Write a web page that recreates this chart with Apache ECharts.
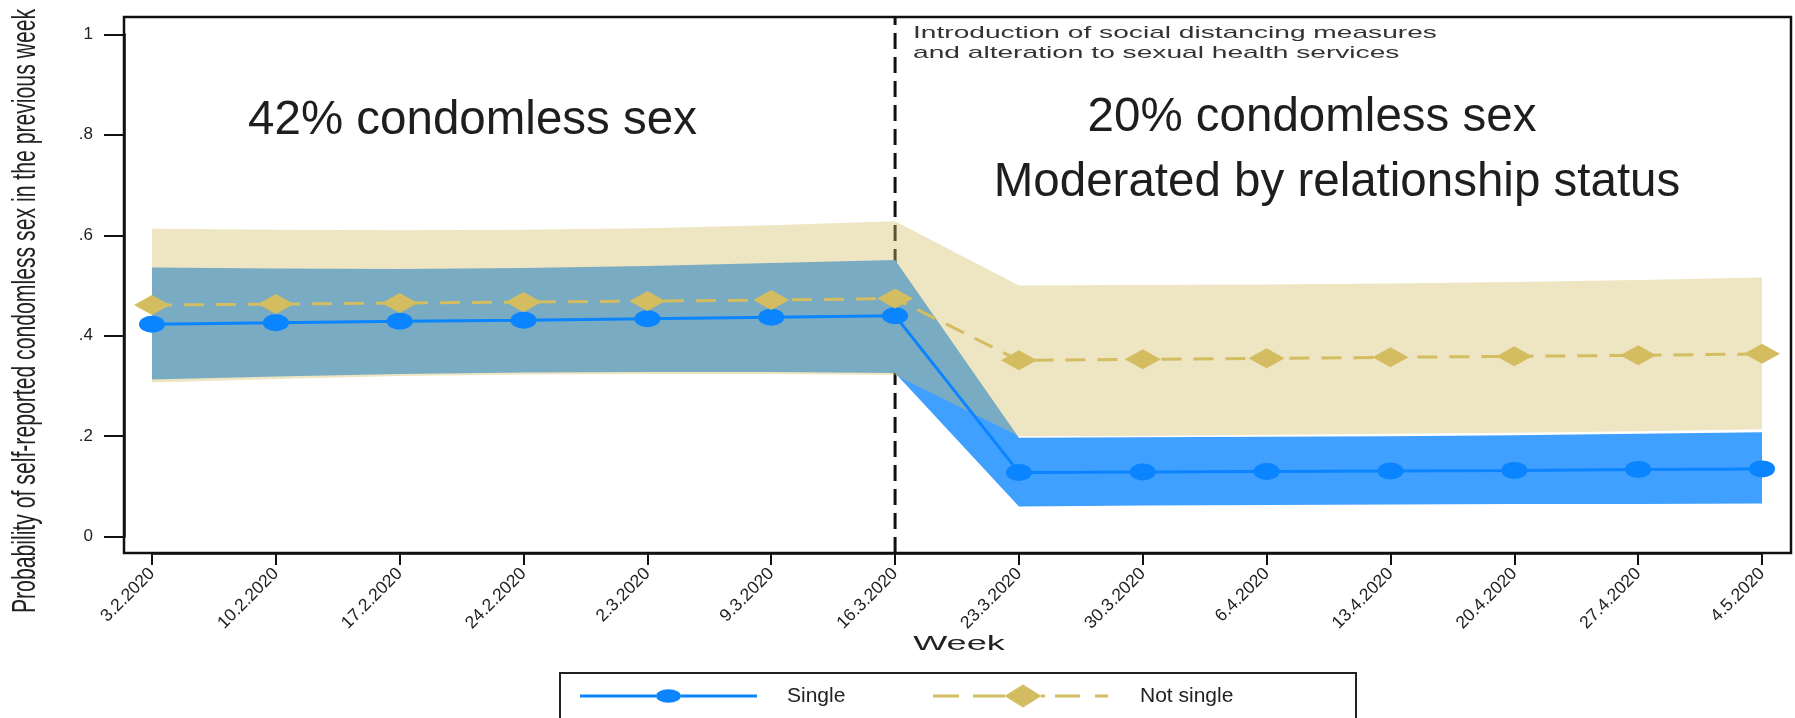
<!DOCTYPE html>
<html><head><meta charset="utf-8">
<script src="https://cdn.jsdelivr.net/npm/echarts@6/dist/echarts.min.js"></script>
<style>html,body{margin:0;padding:0;background:#fff}#c{width:1795px;height:718px}</style>
</head><body><div id="c"></div>
<script>
// ---------------- data ----------------
const weeks = ['3.2.2020','10.2.2020','17.2.2020','24.2.2020','2.3.2020','9.3.2020','16.3.2020',
               '23.3.2020','30.3.2020','6.4.2020','13.4.2020','20.4.2020','27.4.2020','4.5.2020'];
const yTickLabels = ['0', '.2', '.4', '.6', '.8', '1'];

const singleMean = [0.423, 0.426, 0.429, 0.431, 0.434, 0.437, 0.440, 0.128, 0.129, 0.130, 0.131, 0.132, 0.134, 0.135];
const singleLow  = [0.313, 0.319, 0.324, 0.327, 0.328, 0.328, 0.326, 0.060, 0.062, 0.063, 0.064, 0.065, 0.065, 0.066];
const singleHigh = [0.536, 0.534, 0.533, 0.535, 0.539, 0.545, 0.551, 0.197, 0.198, 0.199, 0.200, 0.202, 0.205, 0.208];

const notSingleMean = [0.461, 0.463, 0.465, 0.467, 0.469, 0.471, 0.474, 0.351, 0.353, 0.355, 0.357, 0.359, 0.361, 0.364];
const notSingleLow  = [0.307, 0.314, 0.320, 0.323, 0.324, 0.324, 0.322, 0.200, 0.201, 0.203, 0.205, 0.207, 0.210, 0.214];
const notSingleHigh = [0.613, 0.611, 0.610, 0.611, 0.614, 0.620, 0.628, 0.500, 0.501, 0.502, 0.504, 0.507, 0.511, 0.516];

const eventWeek = '16.3.2020';
const eventNote = ['Introduction of social distancing measures', 'and alteration to sexual health services'];
const leftNote = '42% condomless sex';
const rightNote = ['20% condomless sex', 'Moderated by relationship status'];
const yTitle = 'Probability of self-reported condomless sex in the previous week';
const xTitle = 'Week';
const seriesNames = ['Single', 'Not single'];

// ---------------- layout / style ----------------
const W = 1795, H = 718;
const frame = {left: 124, right: 1791, top: 17, bottom: 553};
const plot = {left: 152, right: 1762, top: 34.3, bottom: 536.7};
const step = (plot.right - plot.left) / (weeks.length - 1);
const frameXMin = -(plot.left - frame.left) / step;
const frameXMax = (frame.right - plot.left) / step;
const eventIdx = weeks.indexOf(eventWeek);
const FONT = '"Liberation Sans", Arial, Helvetica, sans-serif';
const BLUE = '#0A84FF', BLUE_BAND = '#40A0FF', TAN = '#D4BD61', INK = '#1e1e1e';
const LEG_FONT = 21;

const diff = (a, b) => a.map((v, i) => +(v - b[i]).toFixed(4));

// legend icons (shape only)
const singleIcon = 'path://M0,0 M202,23 M0,10 H76 V13 H0 Z M101,10 H177 V13 H101 Z M76,11.5 A12.5,6.7 0 1,1 101,11.5 A12.5,6.7 0 1,1 76,11.5 Z';
const notSingleIcon = 'path://M0,0 M202,23 M0,10 H26 V13 H0 Z M40,10 H72 V13 H40 Z M108,10 H112 V13 H108 Z M122,10 H147 V13 H122 Z M162,10 H175 V13 H162 Z M71.5,11.5 L90,0 L108.5,11.5 L90,23 Z';

// measure legend text to place items like the reference
const ctx = document.createElement('canvas').getContext('2d');
ctx.font = LEG_FONT + 'px ' + FONT;
const t1w = ctx.measureText(seriesNames[0]).width;
const t2w = ctx.measureText(seriesNames[1]).width;
const legGap = 933 - 787 - t1w;
const legRightPad = 1356 - (1140 + t2w);

function txt(extra) {
  const s = Object.assign({fontFamily: FONT, fill: INK}, extra);
  if (s.align) s.textAlign = s.align;
  if (s.verticalAlign) s.textVerticalAlign = s.verticalAlign;
  return s;
}

const chart = echarts.init(document.getElementById('c'), null, {renderer: 'canvas'});
chart.setOption({
  animation: false,
  backgroundColor: '#fff',
  grid: [
    {left: plot.left, right: W - plot.right, top: plot.top, bottom: H - plot.bottom},
    {left: frame.left, right: W - frame.right, top: frame.top, bottom: H - frame.bottom,
     show: true, borderColor: '#111', borderWidth: 2.5, backgroundColor: 'transparent'}
  ],
  xAxis: [
    {type: 'category', gridIndex: 0, data: weeks, boundaryGap: false,
     offset: frame.bottom - plot.bottom,
     axisLine: {show: true, onZero: false, lineStyle: {color: '#111', width: 2.5}},
     axisTick: {show: true, length: 12, lineStyle: {color: '#111', width: 2}},
     axisLabel: {interval: 0, rotate: 45, margin: 18, fontSize: 17.5, color: '#222', fontFamily: FONT},
     splitLine: {show: false}},
    {type: 'value', gridIndex: 1, min: frameXMin, max: frameXMax, show: false}
  ],
  yAxis: [
    {type: 'value', gridIndex: 0, min: 0, max: 1, interval: 0.2,
     offset: plot.left - frame.left,
     axisLine: {show: true, onZero: false, lineStyle: {color: '#111', width: 2.5}},
     axisTick: {show: true, length: 20, lineStyle: {color: '#111', width: 2}},
     axisLabel: {margin: 31, fontSize: 17, color: '#222', fontFamily: FONT,
                 formatter: v => yTickLabels[Math.round(v / 0.2)]},
     splitLine: {show: false}},
    {type: 'value', gridIndex: 1, min: 0, max: 1, show: false}
  ],
  legend: {
    data: [{name: seriesNames[0], icon: singleIcon}, {name: seriesNames[1], icon: notSingleIcon}],
    left: 560, top: 673, orient: 'horizontal',
    itemWidth: 202, itemHeight: 23, itemGap: legGap,
    padding: [11.5, legRightPad, 20, 20],
    borderColor: '#222', borderWidth: 2, backgroundColor: '#fff',
    textStyle: {fontSize: LEG_FONT, color: '#222', fontFamily: FONT},
    itemStyle: {borderWidth: 0},
    selectedMode: false
  },
  series: [
    {name: 'event', type: 'line', xAxisIndex: 1, yAxisIndex: 1, silent: true, z: 1,
     data: [[eventIdx, 0], [eventIdx, 1]], symbol: 'none',
     lineStyle: {color: '#111', width: 3, type: [16, 8]}},
    {name: 'singleLow', type: 'line', stack: 'sCI', data: singleLow, symbol: 'none', silent: true, z: 2,
     lineStyle: {width: 0, opacity: 0}},
    {name: 'singleCI', type: 'line', stack: 'sCI', data: diff(singleHigh, singleLow), symbol: 'none', silent: true, z: 2,
     lineStyle: {width: 0, opacity: 0}, areaStyle: {color: BLUE_BAND, opacity: 1}},
    {name: 'notSingleLow', type: 'line', stack: 'nCI', data: notSingleLow, symbol: 'none', silent: true, z: 3,
     lineStyle: {width: 0, opacity: 0}},
    {name: 'notSingleCI', type: 'line', stack: 'nCI', data: diff(notSingleHigh, notSingleLow), symbol: 'none', silent: true, z: 3,
     lineStyle: {width: 0, opacity: 0}, areaStyle: {color: TAN, opacity: 0.39}},
    {name: seriesNames[0], type: 'line', data: singleMean, z: 5,
     symbol: 'circle', symbolSize: [26, 17], showAllSymbol: true,
     itemStyle: {color: BLUE, borderWidth: 0},
     lineStyle: {color: BLUE, width: 3}},
    {name: seriesNames[1], type: 'line', data: notSingleMean, z: 6,
     symbol: 'diamond', symbolSize: [36, 20], showAllSymbol: true,
     itemStyle: {color: TAN, borderWidth: 0},
     lineStyle: {color: TAN, width: 3, type: [20, 12]}}
  ],
  graphic: [
    {type: 'text', x: 26, y: 311, rotation: Math.PI / 2, scaleY: 1.6, silent: true,
     style: txt({text: yTitle, fontSize: 21.2, align: 'center', verticalAlign: 'middle', fill: '#222'})},
    {type: 'text', x: 959, y: 644, scaleX: 1.72, silent: true,
     style: txt({text: xTitle, fontSize: 21, align: 'center', verticalAlign: 'middle', fill: '#222'})},
    {type: 'text', x: 913, y: 23.3, scaleX: 1.655, silent: true,
     style: txt({text: eventNote.join('\n'), fontSize: 17, lineHeight: 20, align: 'left', verticalAlign: 'top', fill: '#333'})},
    {type: 'text', x: 472.5, y: 121, silent: true,
     style: txt({text: leftNote, fontSize: 47.5, align: 'center', verticalAlign: 'middle'})},
    {type: 'text', x: 1312, y: 118, silent: true,
     style: txt({text: rightNote[0], fontSize: 47.5, align: 'center', verticalAlign: 'middle'})},
    {type: 'text', x: 1337, y: 183, silent: true,
     style: txt({text: rightNote[1], fontSize: 47.5, align: 'center', verticalAlign: 'middle'})}
  ]
});
</script>
</body></html>
